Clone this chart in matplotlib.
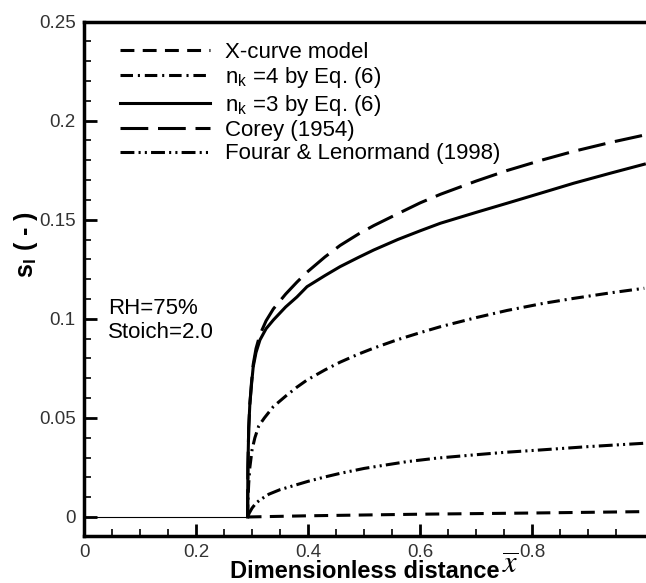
import numpy as np
import matplotlib
matplotlib.use("Agg")
import matplotlib.pyplot as plt

plt.rcParams['font.family'] = ['Liberation Sans', 'DejaVu Sans']
plt.rcParams['mathtext.fontset'] = 'stix'
plt.rcParams['lines.scale_dashes'] = False

# curves (x = dimensionless distance, y = s_l)
x_onset = 0.292

x_xcurve = [0.292, 0.4, 0.6, 0.8, 1.0]
y_xcurve = [0.0, 0.0006, 0.0014, 0.002, 0.0027]

x_nk4 = [0.292, 0.2925, 0.294, 0.296, 0.300, 0.305, 0.312, 0.322, 0.338, 0.36, 0.38,
         0.398, 0.43, 0.457, 0.49, 0.517, 0.56, 0.6, 0.636, 0.7, 0.755, 0.82, 0.874, 0.94, 1.0]
y_nk4 = [0.0, 0.008, 0.017, 0.025, 0.034, 0.040, 0.046, 0.050, 0.0557, 0.061, 0.0655,
         0.0691, 0.0742, 0.0781, 0.0822, 0.0852, 0.0895, 0.0930, 0.0960, 0.1006, 0.1042, 0.1078, 0.1103, 0.1131, 0.1154]

x_nk3 = [0.292, 0.2925, 0.294, 0.296, 0.299, 0.302, 0.307, 0.314, 0.325, 0.338, 0.36, 0.38,
         0.398, 0.43, 0.457, 0.49, 0.517, 0.56, 0.6, 0.636, 0.7, 0.755, 0.82, 0.874, 0.94, 1.0]
y_nk3 = [0.0, 0.025, 0.045, 0.057, 0.067, 0.0758, 0.083, 0.0893, 0.095, 0.0994, 0.106, 0.111,
         0.1162, 0.1218, 0.1263, 0.1310, 0.1347, 0.1400, 0.1444, 0.1482, 0.1537, 0.1583, 0.1638, 0.1684, 0.1735, 0.178]

x_corey = [0.292, 0.2925, 0.294, 0.296, 0.299, 0.302, 0.307, 0.314, 0.325, 0.338, 0.36, 0.38,
           0.398, 0.43, 0.457, 0.49, 0.517, 0.56, 0.6, 0.636, 0.7, 0.755, 0.82, 0.874, 0.94, 1.0]
y_corey = [0.0, 0.025, 0.045, 0.057, 0.068, 0.077, 0.085, 0.092, 0.099, 0.105, 0.1125, 0.1185,
           0.1235, 0.1312, 0.137, 0.1428, 0.147, 0.153, 0.1585, 0.1628, 0.1695, 0.1748, 0.1803, 0.1845, 0.189, 0.1927]

x_fourar = [0.292, 0.295, 0.300, 0.307, 0.314, 0.33, 0.35, 0.368, 0.40, 0.43, 0.457, 0.5,
            0.54, 0.576, 0.63, 0.695, 0.75, 0.814, 0.9, 1.0]
y_fourar = [0.0, 0.002, 0.0045, 0.007, 0.0086, 0.0115, 0.0138, 0.0153, 0.018, 0.0202, 0.022, 0.0245,
            0.0263, 0.0279, 0.0297, 0.0313, 0.0326, 0.0338, 0.0355, 0.0372]

labels = ['X-curve model',
          r'n$_\mathregular{k}$ =4 by Eq. (6)',
          r'n$_\mathregular{k}$ =3 by Eq. (6)',
          'Corey (1954)',
          'Fourar & Lenormand (1998)']

fig = plt.figure(figsize=(6.46, 5.83), dpi=100)
ax = fig.add_axes([84 / 646, 47 / 583, 562 / 646, 514.5 / 583])

lw = 2.2
ax.plot([0, x_onset], [0, 0], color='k', lw=0.8)
ax.plot(x_xcurve, y_xcurve, color='k', lw=lw, dashes=(10, 6), label=labels[0])
ax.plot(x_nk4, y_nk4, color='k', lw=lw, dashes=(9, 3.5, 1.5, 3.5), label=labels[1])
ax.plot(x_nk3, y_nk3, color='k', lw=lw, label=labels[2])
ax.plot(x_corey, y_corey, color='k', lw=lw, dashes=(20, 7), label=labels[3])
ax.plot(x_fourar, y_fourar, color='k', lw=lw, dashes=(10, 3, 1.5, 3, 1.5, 3), label=labels[4])

ax.set_xlim(0, 1.003)
ax.set_ylim(-0.0096, 0.25)
ax.set_xticks([0, 0.2, 0.4, 0.6, 0.8])
ax.set_xticklabels(['0', '0.2', '0.4', '0.6', '0.8'])
ax.set_yticks([0, 0.05, 0.1, 0.15, 0.2, 0.25])
ax.set_yticklabels(['0', '0.05', '0.1', '0.15', '0.2', '0.25'])
ax.set_xticks(np.arange(0, 1.0, 0.05), minor=True)
ax.set_yticks(np.arange(0, 0.25, 0.01), minor=True)
ax.tick_params(which='major', direction='in', length=9, width=2, labelsize=13.5,
               labelcolor='#333333', pad=6)
ax.tick_params(which='minor', direction='in', length=5, width=1.2)

for s in ['left', 'bottom', 'top']:
    ax.spines[s].set_linewidth(2.5)
ax.spines['right'].set_visible(False)

ax.set_xlabel('Dimensionless distance', fontsize=17, fontweight='bold', labelpad=-1)
fig.text(502 / 646, (583 - 566) / 583, r'$\overline{x}$', fontsize=22, ha='left', va='center')
ax.set_ylabel(r's$_\mathregular{l}$ ( - )', fontsize=18, fontweight='bold')
ax.yaxis.set_label_coords(-0.078, 0.567)

ax.text(108 / 646, (583 - 308) / 583, 'RH=75%', transform=fig.transFigure,
        fontsize=16, va='center', ha='left')
ax.text(108 / 646, (583 - 332) / 583, 'Stoich=2.0', transform=fig.transFigure,
        fontsize=16, va='center', ha='left')

ax.legend(loc='upper left', bbox_to_anchor=(27 / 562, 0.978), frameon=False,
          fontsize=16, handlelength=4.05, handletextpad=0.68, labelspacing=0.11,
          borderaxespad=0)

fig.savefig('out.png', dpi=100)
